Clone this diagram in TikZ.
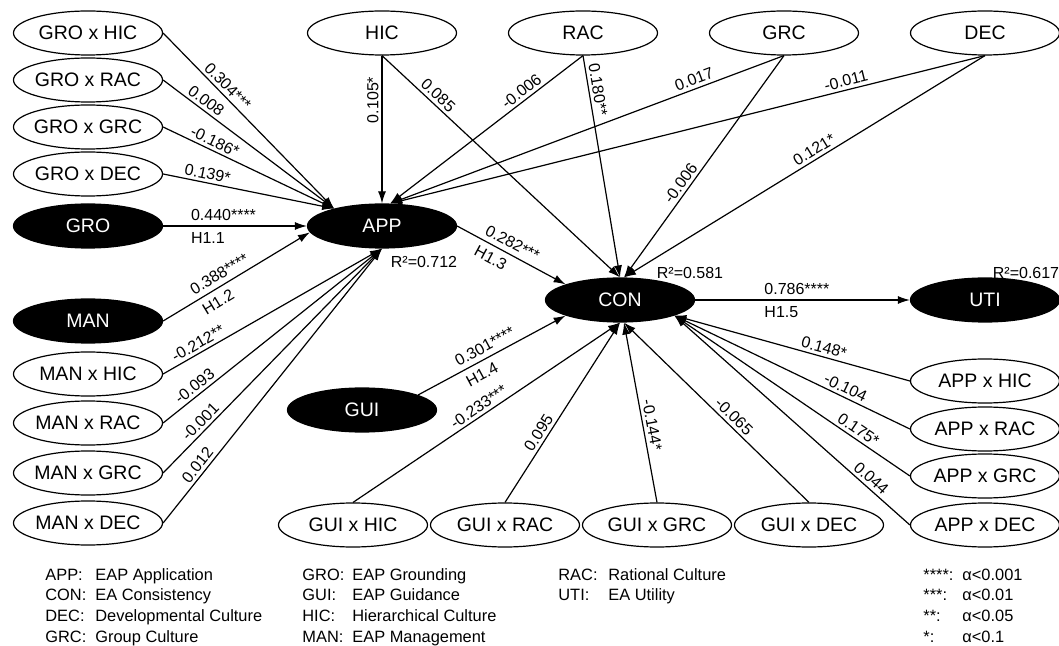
\documentclass[tikz,border=0pt]{standalone}
\usepackage{fontspec}
\setmainfont{Liberation Sans}
\usetikzlibrary{positioning,shapes.geometric,arrows.meta}
\newcommand\ellfont{\fontsize{9.75}{11}\selectfont}
\newcommand\coeffont{\fontsize{8}{9.6}\selectfont}
\newcommand\legfont{\fontsize{8.2}{10.35}\selectfont}

\begin{document}
\begin{tikzpicture}[node distance=23.5pt,every node/.style={inner sep=1pt}]
\tikzstyle{arrow}=[draw,-{Latex[length=6pt,width=4pt]},line width=0.6pt]
\tikzstyle{var}=[draw,ellipse,line width=0.6pt,minimum width=74.5pt,minimum height=22pt,inner xsep=-6pt,inner ysep=0pt,font=\ellfont]
\tikzstyle{lat}=[var,fill=black,text=white]
\tikzstyle{coef}=[font=\coeffont]
\tikzstyle{lbl}=[coef,sloped,inner sep=1.5pt]
\tikzstyle{hval}=[lbl,anchor=south west,inner xsep=0pt,inner ysep=2.5pt]
\tikzstyle{hyp}=[lbl,anchor=north west,inner xsep=0pt,inner ysep=3pt]
\tikzstyle{key}=[font=\legfont,inner sep=0pt,anchor=base west]

\useasboundingbox (0,0) rectangle (529.5pt,-323pt);

% left column
\node[var](gro-hic) at (44pt,-16.5pt){GRO x HIC};
\node[var,below of=gro-hic](gro-rac){GRO x RAC};
\node[var,below of=gro-rac](gro-grc){GRO x GRC};
\node[var,below of=gro-grc](gro-dec){GRO x DEC};
\node[lat,below of=gro-dec,node distance=26pt](gro){GRO};
\node[lat,below of=gro,node distance=47.5pt](man){MAN};
\node[var,below of=man,node distance=26.5pt](man-hic){MAN x HIC};
\node[var,below of=man-hic,node distance=24.5pt](man-rac){MAN x RAC};
\node[var,below of=man-rac,node distance=25pt](man-grc){MAN x GRC};
\node[var,below of=man-grc,node distance=25pt](man-dec){MAN x DEC};

% top row
\node[var](hic) at (191pt,-16.5pt){HIC};
\node[var,right of=hic,node distance=100.5pt](rac){RAC};
\node[var,right of=rac,node distance=100.5pt](grc){GRC};
\node[var,right of=grc,node distance=100.5pt](dec){DEC};

% constructs
\node[lat,right of=gro,node distance=147pt](app){APP};
\node[lat](con) at (310pt,-150pt){CON};
\node[lat,right of=con,node distance=182.5pt](uti){UTI};
\node[lat](gui) at (181pt,-205pt){GUI};

% bottom row
\node[var](gui-hic) at (176.5pt,-262.5pt){GUI x HIC};
\node[var,right of=gui-hic,node distance=76pt](gui-rac){GUI x RAC};
\node[var,right of=gui-rac,node distance=76pt](gui-grc){GUI x GRC};
\node[var,right of=gui-grc,node distance=76pt](gui-dec){GUI x DEC};

% right column
\node[var](app-dec) at (492.5pt,-262.5pt){APP x DEC};
\node[var,above of=app-dec,node distance=24.5pt](app-grc){APP x GRC};
\node[var,above of=app-grc,node distance=23.5pt](app-rac){APP x RAC};
\node[var,above of=app-rac,node distance=24pt](app-hic){APP x HIC};

% R squared
\node[coef,below of=app,node distance=18pt,xshift=21pt](r2-app){R²=0.712};
\node[coef,above of=con,node distance=13.5pt,xshift=35pt](r2-con){R²=0.581};
\node[coef,above of=uti,node distance=13.5pt,xshift=20.5pt](r2-uti){R²=0.617};

% paths into APP
\path[arrow](gro-hic.east)--node[lbl,above,pos=.34]{0.304***}(app.160);
\path[arrow](gro-rac.east)--node[lbl,above,pos=.22]{0.008}(app.160);
\path[arrow](gro-grc.east)--node[lbl,above,pos=.28]{-0.186*}(app.160);
\path[arrow](gro-dec.east)--node[lbl,above,pos=.25]{0.139*}(app.160);
\path[arrow](gro.east)--node[hval,pos=.19]{0.440****}node[hyp,pos=.19]{H1.1}(app.west);
\path[arrow](man.east)--node[hval,pos=.23]{0.388****}node[hyp,pos=.23]{H1.2}(app.185);
\path[arrow](man-hic.east)--node[lbl,above,pos=.18]{-0.212**}(app.south);
\path[arrow](man-rac.east)--node[lbl,above,pos=.17]{-0.093}(app.south);
\path[arrow](man-grc.east)--node[lbl,above,pos=.2]{-0.001}(app.south);
\path[arrow](man-dec.east)--node[lbl,above,pos=.19]{0.012}(app.south);
\path[arrow](hic.south)--node[coef,above,rotate=90,pos=.3,inner sep=1.5pt]{0.105*}(app.north);
\path[arrow](rac.south)--node[lbl,above,pos=.29]{-0.006}(app.70);
\path[arrow](grc.south)--node[lbl,above,pos=.22]{0.017}(app.70);
\path[arrow](dec.south)--node[lbl,above,pos=.23]{-0.011}(app.70);

% paths into CON
\path[arrow](hic.south)--node[lbl,above,pos=.21]{0.085}(con.north);
\path[arrow](rac.south)--node[lbl,above,pos=.16]{0.180**}(con.north);
\path[arrow](grc.south)--node[lbl,above,pos=.6]{-0.006}(con.80);
\path[arrow](dec.south)--node[lbl,above,pos=.46]{0.121*}(con.80);
\path[arrow](app.east)--node[hval,pos=.22]{0.282***}node[hyp,pos=.22]{H1.3}(con.164);
\path[arrow](gui.15)--node[hval,pos=.29]{0.301****}node[hyp,pos=.29]{H1.4}(con.196);
\path[arrow](gui-hic.north)--node[lbl,above,pos=.49]{-0.233***}(con.south);
\path[arrow](gui-rac.north)--node[lbl,above,pos=.36]{0.095}(con.south);
\path[arrow](gui-grc.north)--node[lbl,above,pos=.42]{-0.144*}(con.280);
\path[arrow](gui-dec.north)--node[lbl,above,pos=.44]{-0.065}(con.280);
\path[arrow](app-hic.west)--node[lbl,above,pos=.375]{0.148*}(con.-16);
\path[arrow](app-rac.west)--node[lbl,above,pos=.29]{-0.104}(con.-16);
\path[arrow](app-grc.west)--node[lbl,above,pos=.24]{0.175*}(con.-16);
\path[arrow](app-dec.west)--node[lbl,above,pos=.19]{0.044}(con.-16);
\path[arrow](con.east)--node[hval,pos=.32]{0.786****}node[hyp,pos=.32]{H1.5}(uti.west);

% legend
\node[key](key-a) at (22.5pt,-290pt){\begin{tabular}[t]{@{}p{25pt}@{}l@{}}
APP: & EAP Application\\
CON: & EA Consistency\\
DEC: & Developmental Culture\\
GRC: & Group Culture
\end{tabular}};
\node[key](key-b) at (151pt,-290pt){\begin{tabular}[t]{@{}p{25pt}@{}l@{}}
GRO: & EAP Grounding\\
GUI: & EAP Guidance\\
HIC: & Hierarchical Culture\\
MAN: & EAP Management
\end{tabular}};
\node[key](key-c) at (279pt,-290pt){\begin{tabular}[t]{@{}p{25pt}@{}l@{}}
RAC: & Rational Culture\\
UTI: & EA Utility
\end{tabular}};
\node[key](key-d) at (461.5pt,-290pt){\begin{tabular}[t]{@{}p{19.5pt}@{}l@{}}
****: & α<0.001\\
{}***: & α<0.01\\
{}**: & α<0.05\\
{}*: & α<0.1
\end{tabular}};
\end{tikzpicture}
\end{document}
